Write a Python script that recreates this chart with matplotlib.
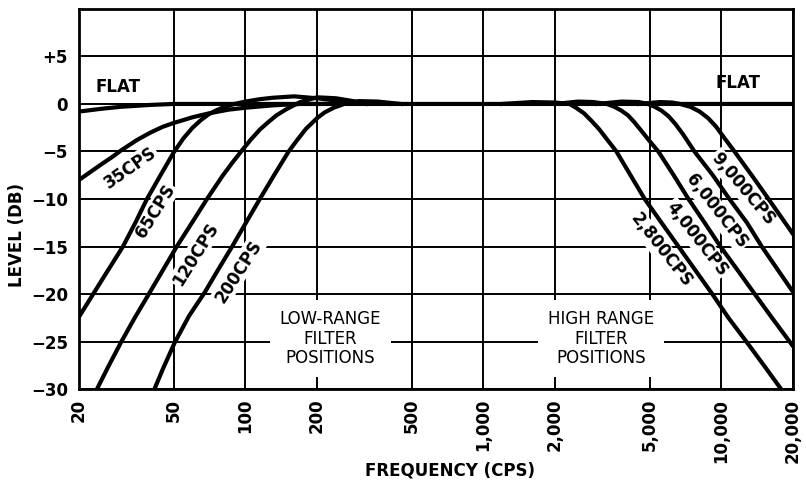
import matplotlib
matplotlib.use("Agg")
import matplotlib.pyplot as plt
from matplotlib.ticker import NullLocator

plt.rcParams['font.family'] = ['DejaVu Sans']

# axis ticks
x_ticks = [20, 50, 100, 200, 500, 1000, 2000, 5000, 10000, 20000]
x_tick_labels = ["20", "50", "100", "200", "500", "1,000", "2,000", "5,000", "10,000", "20,000"]
y_ticks = [-30, -25, -20, -15, -10, -5, 0, 5, 10]
y_tick_labels = ["\u221230", "\u221225", "\u221220", "\u221215", "\u221210", "\u22125", "0", "+5", ""]

# response curves (freq in cps, level in db)
flat_f = [20, 25, 30, 40, 50, 100, 1000, 20000]
flat_db = [-0.8, -0.5, -0.3, -0.1, 0, 0, 0, 0]

lo35_f = [20, 22.5, 25, 27.5, 30, 35, 40, 45, 50, 60, 70, 85, 100, 130, 170, 250]
lo35_db = [-8.0, -7.1, -6.3, -5.6, -4.9, -3.8, -3.0, -2.4, -2.0, -1.4, -1.0, -0.6, -0.4, -0.15, 0, 0]

lo65_f = [20, 25, 30.6, 34.5, 38.6, 44, 50, 55, 60, 65, 70, 75, 80, 90, 100, 115, 130, 160, 200, 250, 320]
lo65_db = [-22.4, -18.5, -15, -12.5, -10, -7.5, -5.1, -3.6, -2.5, -1.7, -1.1, -0.7, -0.4, 0, 0.25, 0.5, 0.65, 0.8, 0.6, 0.3, 0]

lo120_f = [23.8, 26.6, 30, 34.3, 39.3, 45, 51.5, 60, 69, 80, 88, 96, 105, 115, 125, 135, 150, 170, 200, 240, 300, 400]
lo120_db = [-30, -27.6, -25.1, -22.5, -20, -17.5, -15, -12.4, -10, -7.6, -6.2, -5, -3.8, -2.7, -1.9, -1.2, -0.5, 0.2, 0.7, 0.6, 0.2, 0]

lo200_f = [41.5, 45, 50.5, 58, 67.6, 77, 88, 100, 115, 132, 152, 165, 180, 200, 215, 235, 260, 300, 360, 450]
lo200_db = [-30, -27.9, -25.1, -22.3, -19.8, -17.4, -15, -12.6, -10, -7.5, -5, -3.8, -2.6, -1.5, -0.9, -0.4, 0, 0.3, 0.25, 0]

hi2800_f = [1200, 1600, 2000, 2300, 2450, 2650, 2850, 3050, 3300, 3620, 4150, 4760, 5600, 6600, 7770, 9150, 10700, 12720, 15070, 17800]
hi2800_db = [0, 0.2, 0.15, 0, -0.4, -1.0, -1.8, -2.6, -3.7, -5, -7.5, -10, -12.5, -15, -17.5, -20, -22.5, -25, -27.5, -30]

hi4000_f = [2000, 2500, 2900, 3300, 3550, 3800, 4050, 4300, 4600, 4950, 5430, 6300, 7270, 8500, 9900, 11700, 13800, 16300, 20000]
hi4000_db = [0, 0.25, 0.2, 0, -0.3, -0.7, -1.2, -1.9, -2.8, -3.8, -5, -7.5, -10, -12.5, -15, -17.5, -20, -22.5, -25.5]

hi6000_f = [3000, 3800, 4500, 4900, 5250, 5600, 6000, 6400, 6900, 7700, 9200, 10800, 12800, 14770, 17300, 20000]
hi6000_db = [0, 0.25, 0.2, 0, -0.3, -0.7, -1.3, -2.1, -3.2, -5, -7.5, -10, -12.5, -15, -17.5, -19.8]

hi9000_f = [4500, 5500, 6200, 6700, 7400, 8100, 8800, 9500, 10300, 11340, 13400, 15770, 20000]
hi9000_db = [0, 0.2, 0.15, 0, -0.3, -0.8, -1.5, -2.4, -3.6, -5, -7.5, -10, -13.7]

curves = [
    (flat_f, flat_db), (lo35_f, lo35_db), (lo65_f, lo65_db), (lo120_f, lo120_db),
    (lo200_f, lo200_db), (hi2800_f, hi2800_db), (hi4000_f, hi4000_db),
    (hi6000_f, hi6000_db), (hi9000_f, hi9000_db),
]

fig = plt.figure(figsize=(8.06, 4.95), dpi=100)
ax = fig.add_axes([0.098, 0.214, 0.886, 0.768])
ax.set_xscale('log')
ax.set_xlim(20, 20000)
ax.set_ylim(-30, 10)

ax.set_xticks(x_ticks, x_tick_labels, rotation=90)
ax.xaxis.set_minor_locator(NullLocator())
ax.set_yticks(y_ticks, y_tick_labels)
ax.tick_params(length=0, labelsize=12)
ax.tick_params(axis='x', pad=7)
ax.tick_params(axis='y', pad=8)
for lab in ax.get_xticklabels() + ax.get_yticklabels():
    lab.set_fontweight('bold')

ax.grid(True, color='black', linewidth=1.4)
ax.set_axisbelow(True)
for sp in ax.spines.values():
    sp.set_linewidth(2)

for f, db in curves:
    ax.plot(f, db, color='black', linewidth=3, solid_joinstyle='round', zorder=3)

lbl = dict(ha='center', va='center', fontsize=12, fontweight='bold', rotation_mode='anchor', zorder=2.5)
box = dict(facecolor='white', edgecolor='none', pad=1.0)

ax.text(23.4, 1.8, "FLAT", ha='left', va='center', fontsize=12, fontweight='bold', zorder=4)
ax.text(9400, 2.2, "FLAT", ha='left', va='center', fontsize=12, fontweight='bold', zorder=4)

ax.text(32.8, -6.7, "35CPS", rotation=35, bbox=box, **lbl)
ax.text(41.8, -11.3, "65CPS", rotation=58, bbox=box, **lbl)
ax.text(61.6, -15.8, "120CPS", rotation=58, bbox=box, **lbl)
ax.text(93.4, -17.6, "200CPS", rotation=57, bbox=box, **lbl)

ax.text(12300, -8.9, "9,000CPS", rotation=-50, bbox=box, **lbl)
ax.text(9530, -11.3, "6,000CPS", rotation=-52, bbox=box, **lbl)
ax.text(7870, -14.2, "4,000CPS", rotation=-52, bbox=box, **lbl)
ax.text(5600, -15.4, "2,800CPS", rotation=-52, bbox=box, **lbl)

tbox = dict(facecolor='white', edgecolor='none', boxstyle='square,pad=0.6')
ax.text(228, -24.7, "LOW-RANGE\nFILTER\nPOSITIONS", ha='center', va='center',
        fontsize=12, linespacing=1.1, bbox=tbox, zorder=2)
ax.text(3125, -24.7, "HIGH RANGE\nFILTER\nPOSITIONS", ha='center', va='center',
        fontsize=12, linespacing=1.1, bbox=tbox, zorder=2)

fig.text(450 / 806, 1 - 470 / 495, "FREQUENCY (CPS)", ha='center', va='center',
         fontsize=12, fontweight='bold')
fig.text(17 / 806, 1 - 235 / 495, "LEVEL (DB)", ha='center', va='center',
         rotation=90, fontsize=12, fontweight='bold')

fig.savefig("out.png", dpi=100)
